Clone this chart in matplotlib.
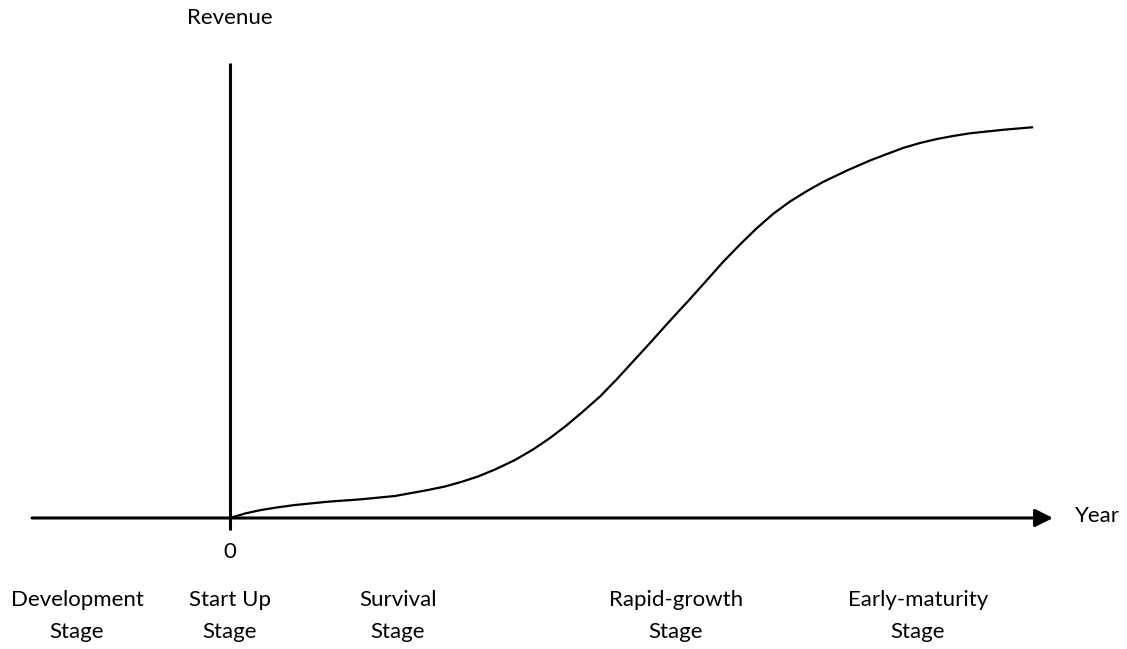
import matplotlib.pyplot as plt
import numpy as np

plt.rcParams['font.family'] = ['Lato', 'DejaVu Sans']

# revenue curve (year units, revenue units)
years = [0, 0.15, 0.31, 0.48, 0.65, 0.98, 1.31, 1.65, 1.98, 2.15, 2.31,
         2.48, 2.65, 2.85, 3.03, 3.2, 3.37, 3.53, 3.70, 3.87, 4.03, 4.2,
         4.37, 4.48, 4.6, 4.77, 4.93, 5.1, 5.27, 5.43, 5.6, 5.77, 5.93,
         6.17, 6.40, 6.57, 6.73, 6.9, 7.07, 7.23, 7.40, 7.73, 8.02]
revenue = [0, 0.045, 0.08, 0.107, 0.13, 0.163, 0.187, 0.22, 0.28, 0.315,
           0.36, 0.415, 0.485, 0.58, 0.685, 0.8, 0.93, 1.065, 1.215, 1.39,
           1.565, 1.75, 1.94, 2.06, 2.19, 2.38, 2.56, 2.735, 2.9, 3.04,
           3.165, 3.27, 3.36, 3.475, 3.575, 3.64, 3.70, 3.75, 3.79, 3.82,
           3.847, 3.882, 3.907]

stages = ['Development\nStage', 'Start Up\nStage', 'Survival\nStage',
          'Rapid-growth\nStage', 'Early-maturity\nStage']
stage_x = [-1.53, 0, 1.68, 4.46, 6.88]

fig = plt.figure(figsize=(11.27, 6.49), dpi=100)
ax = fig.add_axes([0, 0, 1, 1])
ax.set_xlim(-2.30, 8.97)
ax.set_ylim(-1.31, 5.18)
ax.axis('off')

# axes drawn by hand
ax.plot([0, 0], [-0.12, 4.55], color='black', lw=2.2, solid_capstyle='butt')
ax.annotate('', xy=(8.23, 0), xytext=(-1.98, 0),
            arrowprops=dict(arrowstyle='-|>', lw=2.2, color='black',
                            mutation_scale=27, shrinkA=0, shrinkB=0))

ax.plot(years, revenue, color='black', lw=1.6, solid_joinstyle='round')

fs = 16
ax.text(0, 5.0, 'Revenue', ha='center', va='center', fontsize=fs)
ax.text(8.45, 0.02, 'Year', ha='left', va='center', fontsize=fs)
ax.text(0, -0.34, '0', ha='center', va='center', fontsize=fs)
for lab, x in zip(stages, stage_x):
    ax.text(x, -0.98, lab, ha='center', va='center', fontsize=fs,
            linespacing=1.75)

fig.savefig('out.png', dpi=100)
